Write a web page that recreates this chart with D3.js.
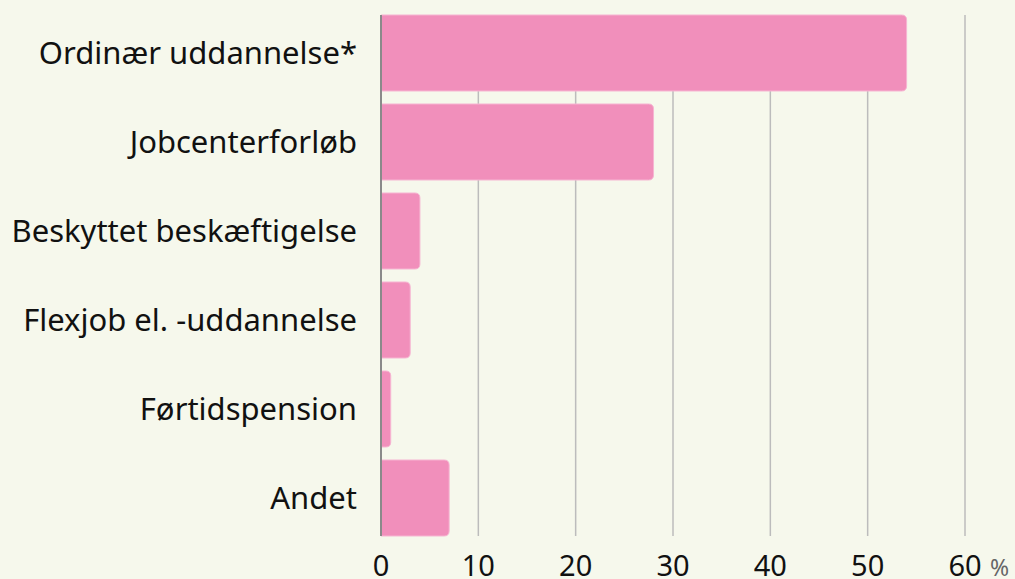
<!DOCTYPE html>
<html lang="da">
<head>
<meta charset="UTF-8">
<title>Bar chart</title>
<style>
    body { margin: 0; background: #f6f8ec; }
    svg { display: block; font-family: "Noto Sans", "Open Sans", sans-serif; }
    .cat { font-size: 31px; fill: #111; }
    .tick-label { font-size: 29px; fill: #111; }
    .grid { stroke: #bcbcbc; stroke-width: 1.5; }
    .bar { fill: #f18fbb; stroke: #f6b5d2; stroke-width: 1; }
</style>
</head>
<body>
<div id="chart"></div>
<script src="https://d3js.org/d3.v7.min.js"></script>
<script>
const categories = ["Ordinær uddannelse*", "Jobcenterforløb", "Beskyttet beskæftigelse",
    "Flexjob el. -uddannelse", "Førtidspension", "Andet"];
const values = [54, 28, 4, 3, 1, 7];
const ticks = [0, 10, 20, 30, 40, 50, 60];
const unit = "%";

const width = 1015, height = 579;
const xLeft = 381, xRight = 965, plotTop = 15, plotBottom = 536;

const svg = d3.select("#chart").append("svg")
    .attr("width", width)
    .attr("height", height);

svg.append("rect").attr("width", width).attr("height", height).attr("fill", "#f6f8ec");

const x = d3.scaleLinear().domain([0, 60]).range([xLeft, xRight]);
const y = d3.scaleBand().domain(categories).range([plotTop, plotBottom])
    .paddingInner(0.146).paddingOuter(0);

// gridlines
svg.selectAll(".grid")
    .data(ticks.slice(1))
    .enter().append("line")
    .attr("class", "grid")
    .attr("x1", d => x(d)).attr("x2", d => x(d))
    .attr("y1", plotTop).attr("y2", plotBottom);

// bars, rounded on the right end only
const r = 5;
function barPath(d, i) {
    const xa = x(0), xb = x(d), ya = y(categories[i]), yb = ya + y.bandwidth();
    const rr = Math.min(r, (xb - xa) / 2);
    return `M${xa},${ya}H${xb - rr}Q${xb},${ya} ${xb},${ya + rr}V${yb - rr}Q${xb},${yb} ${xb - rr},${yb}H${xa}Z`;
}
svg.selectAll(".bar")
    .data(values)
    .enter().append("path")
    .attr("class", "bar")
    .attr("d", barPath);

// zero axis
svg.append("line")
    .attr("x1", x(0)).attr("x2", x(0))
    .attr("y1", plotTop).attr("y2", plotBottom)
    .attr("stroke", "#8a8a8a").attr("stroke-width", 2);

// category labels
svg.selectAll(".cat")
    .data(categories)
    .enter().append("text")
    .attr("class", "cat")
    .attr("x", xLeft - 24)
    .attr("y", d => y(d) + y.bandwidth() / 2)
    .attr("dy", "0.35em")
    .attr("text-anchor", "end")
    .text(d => d);

// tick labels
svg.selectAll(".tick-label")
    .data(ticks)
    .enter().append("text")
    .attr("class", "tick-label")
    .attr("x", d => x(d))
    .attr("y", 576)
    .attr("text-anchor", "middle")
    .text(d => d);

svg.append("text")
    .attr("x", x(60) + 25)
    .attr("y", 576)
    .attr("font-size", 23)
    .attr("fill", "#666")
    .text(unit);
</script>
</body>
</html>
